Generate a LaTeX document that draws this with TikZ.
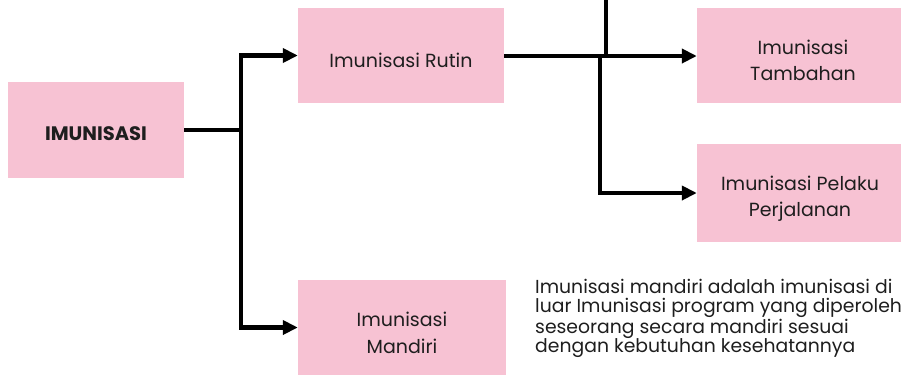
\documentclass[tikz,border=0pt]{standalone}
\usepackage{fontspec}
\setmainfont{Poppins}
\usetikzlibrary{arrows.meta}
\definecolor{boxpink}{RGB}{247,194,211}
\definecolor{inktext}{RGB}{30,30,30}
\tikzset{
  x=1pt, y=-1pt,
  pinkbox/.style={fill=boxpink, draw=none, minimum width=#1, minimum height=95pt, inner sep=0pt},
  % multi-line labels sit on the baseline of their last line
  boxlabel/.style={anchor=base, inner sep=0pt, align=center, text=inktext,
    font=\fontsize{19}{26.7}\selectfont},
  link/.style={line width=4.5pt, draw=black},
  linkarrow/.style={link, -{Triangle[length=15pt,width=14pt]}},
}
\begin{document}
\begin{tikzpicture}
\useasboundingbox (0,0) rectangle (901,376);
\clip (0,0) rectangle (901,376);

% boxes
\node[pinkbox=176pt, minimum height=96pt] (imun) at (96,130) {};
\node[pinkbox=206pt] (rutin) at (401,55.5) {};
\node[pinkbox=208pt] (mandiri) at (402,327.5) {};
\node[pinkbox=208pt] (tambahan) at (801,55.5) {};
\node[pinkbox=208pt, minimum height=98pt] (pelaku) at (801,193) {};

% box labels
\node[boxlabel, font=\bfseries\fontsize{19.5}{24}\selectfont] (imun-t) at (96,140) {IMUNISASI};
\node[boxlabel] (rutin-t) at (401,67) {Imunisasi Rutin};
\node[boxlabel] (mandiri-t) at (402,353) {Imunisasi\\Mandiri};
\node[boxlabel] (tambahan-t) at (803,80.7) {Imunisasi\\Tambahan};
\node[boxlabel] (pelaku-t) at (800,216.7) {Imunisasi Pelaku\\Perjalanan};

% description
\node[anchor=base west, align=left, inner sep=0pt, text=inktext, font=\fontsize{18.8}{19}\selectfont] (desc) at (535,352)
  {Imunisasi mandiri adalah imunisasi di\\luar Imunisasi program yang diperoleh\\seseorang secara mandiri sesuai\\dengan kebutuhan kesehatannya};

% connectors
\coordinate (split) at (241,130);
\coordinate (upper) at (606,0);
\coordinate (fork) at (600,56);
\draw[link] (imun.east) -- (split);
\draw[linkarrow] (split) |- (rutin.west);
\draw[linkarrow] (split) |- (mandiri.west);
\draw[linkarrow] (rutin.east |- fork) -- (tambahan.west |- fork);
\draw[link] (upper) -- (upper |- fork);
\draw[linkarrow] (fork) |- (pelaku.west);
\end{tikzpicture}
\end{document}
